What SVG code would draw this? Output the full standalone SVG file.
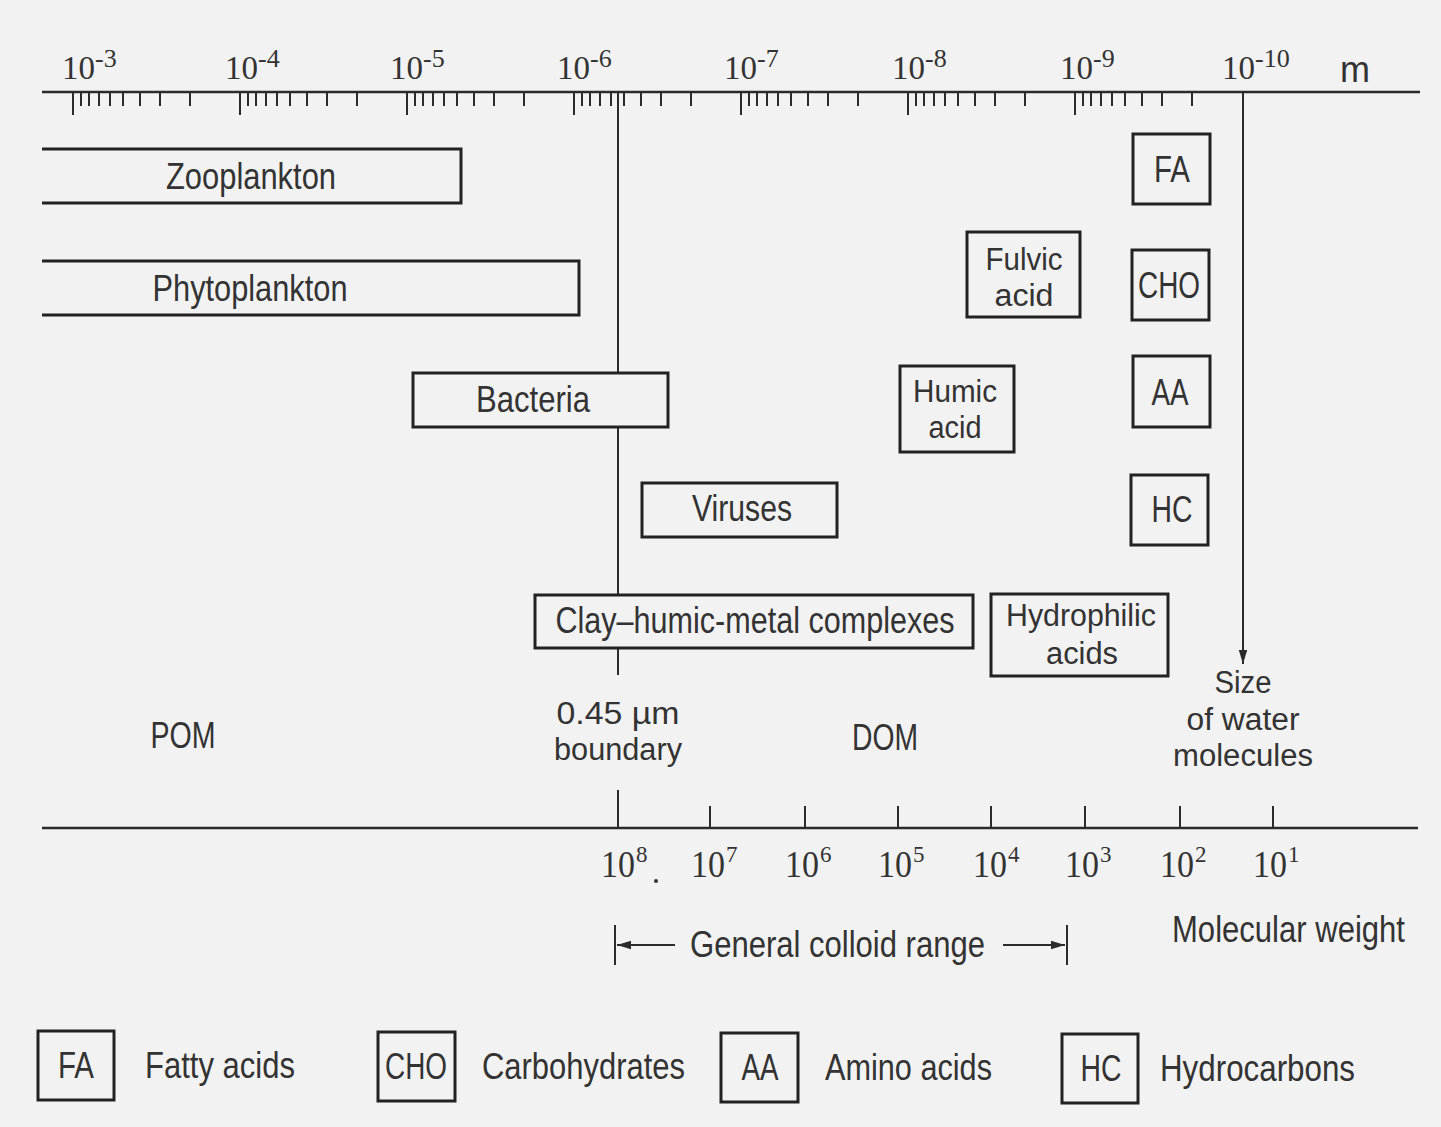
<svg xmlns="http://www.w3.org/2000/svg" width="1441" height="1127" viewBox="0 0 1441 1127">
<style>
.ln{stroke:#2b2b2b;stroke-width:2.5;fill:none}
.tk{stroke:#2b2b2b;stroke-width:2;fill:none}
.bx{stroke:#222;stroke-width:3;fill:#f2f2f2}
.t{font-family:"Liberation Sans",Arial,sans-serif;font-size:36px;fill:#333;text-anchor:middle}
.t2{font-family:"Liberation Sans",Arial,sans-serif;font-size:31px;fill:#333;text-anchor:middle}
.tl{font-family:"Liberation Sans",Arial,sans-serif;font-size:36px;fill:#333}
.n{font-family:"Liberation Serif","Times New Roman",serif;font-size:33px;fill:#333}
.s{font-family:"Liberation Serif","Times New Roman",serif;font-size:26px;fill:#333}
.nb{font-family:"Liberation Serif","Times New Roman",serif;font-size:37px;fill:#333}
.sb{font-family:"Liberation Serif","Times New Roman",serif;font-size:23px;fill:#333}
</style>
<defs>
<marker id="ah" viewBox="0 0 10 10" refX="10" refY="5" markerWidth="14" markerHeight="14" markerUnits="userSpaceOnUse" orient="auto">
<path d="M0,2 L10,5 L0,8 Z" fill="#2b2b2b"/>
</marker>
</defs>
<rect width="1441" height="1127" fill="#f2f2f2"/>

<g id="connectors">
<line class="ln" x1="42" y1="92" x2="1420" y2="92"/>
<g id="top-ticks" class="tk">
<path d="M73,92V115 M81,92V106 M89,92V106 M99,92V106 M110,92V106 M123,92V106 M140,92V106 M160,92V106 M190,92V106"/>
<path d="M240,92V115 M248,92V106 M256,92V106 M266,92V106 M277,92V106 M290,92V106 M307,92V106 M327,92V106 M357,92V106"/>
<path d="M407,92V115 M415,92V106 M423,92V106 M433,92V106 M444,92V106 M457,92V106 M474,92V106 M494,92V106 M524,92V106"/>
<path d="M574,92V115 M582,92V106 M590,92V106 M600,92V106 M611,92V106 M624,92V106 M641,92V106 M661,92V106 M691,92V106"/>
<path d="M741,92V115 M749,92V106 M757,92V106 M767,92V106 M778,92V106 M791,92V106 M808,92V106 M828,92V106 M858,92V106"/>
<path d="M908,92V115 M916,92V106 M924,92V106 M934,92V106 M945,92V106 M958,92V106 M975,92V106 M995,92V106 M1025,92V106"/>
<path d="M1075,92V115 M1083,92V106 M1091,92V106 M1101,92V106 M1112,92V106 M1125,92V106 M1142,92V106 M1162,92V106 M1192,92V106"/>
</g>
<line class="tk" x1="618" y1="92" x2="618" y2="675"/>
<line class="tk" x1="1243" y1="92" x2="1243" y2="664" marker-end="url(#ah)"/>
<line class="ln" x1="42" y1="828" x2="1418" y2="828"/>
<path class="tk" d="M618,790V828 M710,806V828 M805,806V828 M898,806V828 M991,806V828 M1085,806V828 M1180,806V828 M1273,806V828"/>
<path class="tk" d="M615,925V965 M1067,925V965"/>
<line class="tk" x1="675" y1="945" x2="617" y2="945" marker-end="url(#ah)"/>
<line class="tk" x1="1003" y1="945" x2="1065" y2="945" marker-end="url(#ah)"/>
</g>

<g id="axis-labels">
<text class="n" x="62" y="79">10</text><text class="s" x="95" y="67">-3</text>
<text class="n" x="225" y="79">10</text><text class="s" x="258" y="67">-4</text>
<text class="n" x="390" y="79">10</text><text class="s" x="423" y="67">-5</text>
<text class="n" x="557" y="79">10</text><text class="s" x="590" y="67">-6</text>
<text class="n" x="724" y="79">10</text><text class="s" x="757" y="67">-7</text>
<text class="n" x="892" y="79">10</text><text class="s" x="925" y="67">-8</text>
<text class="n" x="1060" y="79">10</text><text class="s" x="1093" y="67">-9</text>
<text class="n" x="1222" y="79">10</text><text class="s" x="1255" y="67">-10</text>
<text class="tl" x="1340" y="82" font-size="30">m</text>

<text class="nb" x="601" y="877" textLength="34" lengthAdjust="spacingAndGlyphs">10</text><text class="sb" x="636" y="862">8</text>
<circle cx="656" cy="881" r="2" fill="#333"/>
<text class="nb" x="691" y="877" textLength="34" lengthAdjust="spacingAndGlyphs">10</text><text class="sb" x="726" y="862">7</text>
<text class="nb" x="785" y="877" textLength="34" lengthAdjust="spacingAndGlyphs">10</text><text class="sb" x="820" y="862">6</text>
<text class="nb" x="878" y="877" textLength="34" lengthAdjust="spacingAndGlyphs">10</text><text class="sb" x="913" y="862">5</text>
<text class="nb" x="973" y="877" textLength="34" lengthAdjust="spacingAndGlyphs">10</text><text class="sb" x="1008" y="862">4</text>
<text class="nb" x="1065" y="877" textLength="34" lengthAdjust="spacingAndGlyphs">10</text><text class="sb" x="1100" y="862">3</text>
<text class="nb" x="1160" y="877" textLength="34" lengthAdjust="spacingAndGlyphs">10</text><text class="sb" x="1195" y="862">2</text>
<text class="nb" x="1253" y="877" textLength="34" lengthAdjust="spacingAndGlyphs">10</text><text class="sb" x="1288" y="862">1</text>

<text class="tl" x="690" y="957" textLength="295" lengthAdjust="spacingAndGlyphs">General colloid range</text>
<text class="tl" x="1172" y="942" textLength="233" lengthAdjust="spacingAndGlyphs">Molecular weight</text>
<text class="t" x="183" y="748" textLength="65" lengthAdjust="spacingAndGlyphs">POM</text>
<text class="t2" x="618" y="724" textLength="123" lengthAdjust="spacingAndGlyphs">0.45 µm</text>
<text class="t2" x="618" y="760" textLength="128" lengthAdjust="spacingAndGlyphs">boundary</text>
<text class="t" x="885" y="750" textLength="66" lengthAdjust="spacingAndGlyphs">DOM</text>
<text class="t2" x="1243" y="693" textLength="57" lengthAdjust="spacingAndGlyphs">Size</text>
<text class="t2" x="1243" y="730" textLength="113" lengthAdjust="spacingAndGlyphs">of water</text>
<text class="t2" x="1243" y="766" textLength="140" lengthAdjust="spacingAndGlyphs">molecules</text>
</g>

<g id="zooplankton">
<path class="bx" d="M42,149H461V203H42"/>
<text class="t" x="251" y="189" textLength="170" lengthAdjust="spacingAndGlyphs">Zooplankton</text>
</g>
<g id="phytoplankton">
<path class="bx" d="M42,261H579V315H42"/>
<text class="t" x="250" y="301" textLength="195" lengthAdjust="spacingAndGlyphs">Phytoplankton</text>
</g>
<g id="bacteria">
<rect class="bx" x="413" y="373" width="255" height="54"/>
<text class="t" x="533" y="412" textLength="114" lengthAdjust="spacingAndGlyphs">Bacteria</text>
</g>
<g id="viruses">
<rect class="bx" x="642" y="483" width="195" height="54"/>
<text class="t" x="742" y="521" textLength="100" lengthAdjust="spacingAndGlyphs">Viruses</text>
</g>
<g id="clay">
<rect class="bx" x="535" y="595" width="438" height="53"/>
<text class="t" x="755" y="633" font-size="33" textLength="399" lengthAdjust="spacingAndGlyphs">Clay–humic-metal complexes</text>
</g>
<g id="hydrophilic">
<rect class="bx" x="991" y="594" width="177" height="82"/>
<text class="t2" x="1081" y="626" textLength="150" lengthAdjust="spacingAndGlyphs">Hydrophilic</text>
<text class="t2" x="1082" y="664" textLength="72" lengthAdjust="spacingAndGlyphs">acids</text>
</g>
<g id="fulvic">
<rect class="bx" x="967" y="232" width="113" height="85"/>
<text class="t2" x="1024" y="270" textLength="77" lengthAdjust="spacingAndGlyphs">Fulvic</text>
<text class="t2" x="1024" y="306" textLength="59" lengthAdjust="spacingAndGlyphs">acid</text>
</g>
<g id="humic">
<rect class="bx" x="900" y="366" width="114" height="86"/>
<text class="t2" x="955" y="402" textLength="84" lengthAdjust="spacingAndGlyphs">Humic</text>
<text class="t2" x="955" y="438" textLength="53" lengthAdjust="spacingAndGlyphs">acid</text>
</g>
<g id="fa">
<rect class="bx" x="1133" y="134" width="77" height="70"/>
<text class="t" x="1172" y="182" textLength="36" lengthAdjust="spacingAndGlyphs">FA</text>
</g>
<g id="cho">
<rect class="bx" x="1132" y="250" width="77" height="70"/>
<text class="t" x="1169" y="298" textLength="62" lengthAdjust="spacingAndGlyphs">CHO</text>
</g>
<g id="aa">
<rect class="bx" x="1133" y="356" width="77" height="71"/>
<text class="t" x="1170" y="405" textLength="37" lengthAdjust="spacingAndGlyphs">AA</text>
</g>
<g id="hc">
<rect class="bx" x="1131" y="475" width="77" height="70"/>
<text class="t" x="1172" y="522" textLength="41" lengthAdjust="spacingAndGlyphs">HC</text>
</g>

<g id="legend">
<rect class="bx" x="38" y="1031" width="76" height="69"/>
<text class="t" x="76" y="1078" textLength="36" lengthAdjust="spacingAndGlyphs">FA</text>
<text class="tl" x="145" y="1078" textLength="150" lengthAdjust="spacingAndGlyphs">Fatty acids</text>
<rect class="bx" x="378" y="1032" width="77" height="69"/>
<text class="t" x="416" y="1079" textLength="62" lengthAdjust="spacingAndGlyphs">CHO</text>
<text class="tl" x="482" y="1079" textLength="203" lengthAdjust="spacingAndGlyphs">Carbohydrates</text>
<rect class="bx" x="721" y="1033" width="77" height="69"/>
<text class="t" x="760" y="1080" textLength="37" lengthAdjust="spacingAndGlyphs">AA</text>
<text class="tl" x="825" y="1080" textLength="167" lengthAdjust="spacingAndGlyphs">Amino acids</text>
<rect class="bx" x="1062" y="1034" width="76" height="69"/>
<text class="t" x="1101" y="1081" textLength="41" lengthAdjust="spacingAndGlyphs">HC</text>
<text class="tl" x="1160" y="1081" textLength="195" lengthAdjust="spacingAndGlyphs">Hydrocarbons</text>
</g>
</svg>
